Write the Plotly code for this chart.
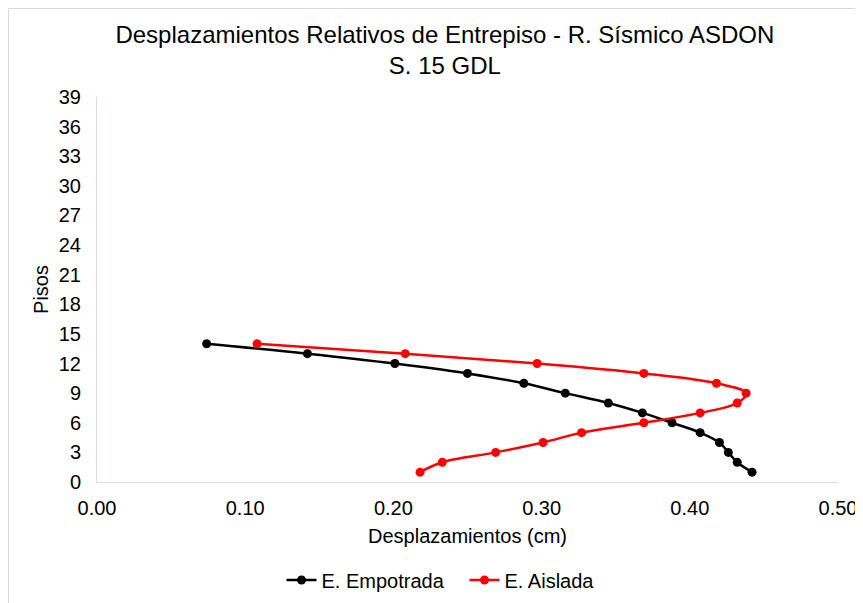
import plotly.graph_objects as go

floors = [1, 2, 3, 4, 5, 6, 7, 8, 9, 10, 11, 12, 13, 14]
empotrada = [0.442, 0.432, 0.426, 0.420, 0.407, 0.388, 0.368, 0.345, 0.316, 0.288, 0.250, 0.201, 0.142, 0.074]
aislada = [0.218, 0.233, 0.269, 0.301, 0.327, 0.369, 0.407, 0.432, 0.438, 0.418, 0.369, 0.297, 0.208, 0.108]
x_ticks = [0.0, 0.1, 0.2, 0.3, 0.4, 0.5]
y_ticks = list(range(0, 40, 3))

FONT = "Liberation Sans, Arial, sans-serif"
W, H = 855, 595
L, R, T, B = 89, 25, 89, 121
PW, PH = W - L - R, H - T - B

fig = go.Figure()
fig.add_trace(go.Scatter(
    x=empotrada, y=floors, name="E. Empotrada", mode="lines+markers",
    line=dict(color="#000000", width=2.5, shape="spline"),
    marker=dict(color="#000000", size=9),
))
fig.add_trace(go.Scatter(
    x=aislada, y=floors, name="E. Aislada", mode="lines+markers",
    line=dict(color="#FF0000", width=2.5, shape="spline"),
    marker=dict(color="#FF0000", size=9),
))

axis_line = "#d6dce4"
fig.update_layout(
    width=W, height=H,
    margin=dict(l=L, r=R, t=T, b=B, autoexpand=False),
    paper_bgcolor="white", plot_bgcolor="white",
    font=dict(family=FONT, size=20, color="#000000"),
    title=dict(
        text="Desplazamientos Relativos de Entrepiso - R. Sísmico ASDON<br>S. 15 GDL",
        x=0.511, xanchor="center", y=1 - 35 / H, yanchor="top", yref="container",
        font=dict(family=FONT, size=24, color="#000000"),
    ),
    xaxis=dict(
        range=[0, 0.5], tickvals=x_ticks, tickformat=".2f",
        showgrid=False, zeroline=False,
        showline=True, linecolor=axis_line, linewidth=1,
        ticks="", ticklabelstandoff=8,
        title=dict(text="Desplazamientos (cm)", standoff=10, font=dict(size=20)),
    ),
    yaxis=dict(
        range=[0, 39], tickvals=y_ticks,
        showgrid=False, zeroline=False,
        showline=True, linecolor=axis_line, linewidth=1,
        ticks="", ticklabelstandoff=11,
        title=dict(text="Pisos", standoff=4, font=dict(size=20)),
    ),
    legend=dict(
        orientation="h", x=0.249, xanchor="left", y=-0.2545, yanchor="middle",
        font=dict(size=20), bgcolor="rgba(0,0,0,0)", entrywidth=138,
    ),
    showlegend=True,
)

# outer chart border
fig.add_shape(
    type="rect", xref="paper", yref="paper",
    x0=(0.5 - L) / PW, x1=(W + 10 - L) / PW,
    y0=-(B + 10) / PH, y1=1 + (T - 0.5) / PH,
    line=dict(color="#d9d9d9", width=1), fillcolor="rgba(0,0,0,0)", layer="below",
)

fig.write_html("out.html")
